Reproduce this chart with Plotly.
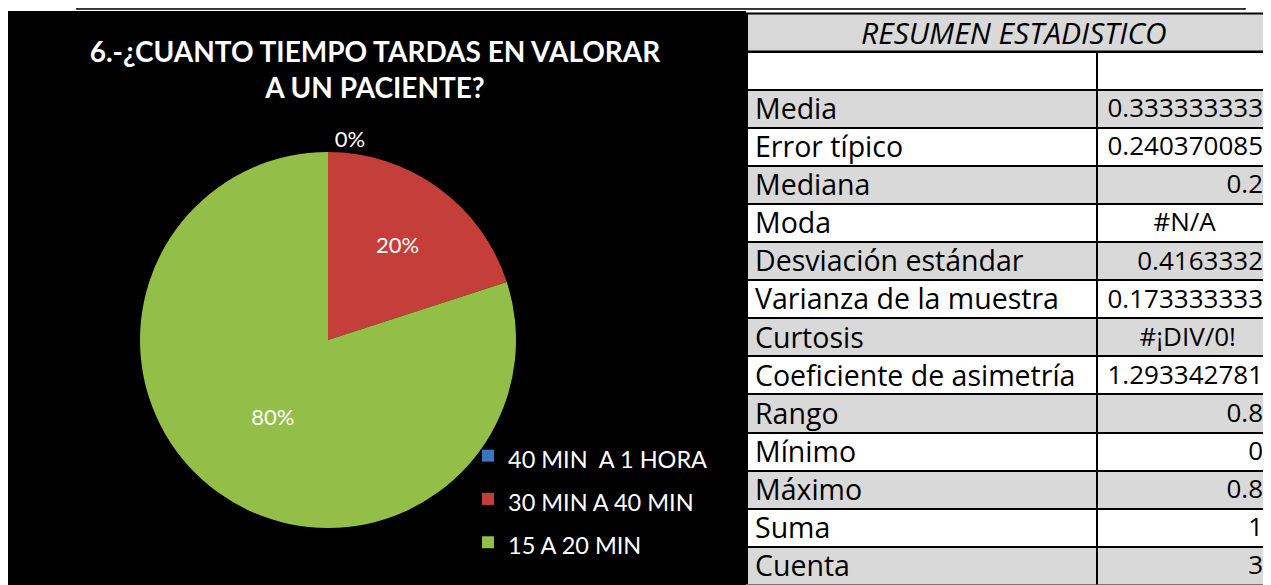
import plotly.graph_objects as go

# ---------------- data ----------------
categories = ["40 MIN\u00a0 A 1 HORA", "30 MIN A 40 MIN", "15 A 20 MIN"]
shares = [0.0, 0.2, 0.8]
slice_colors = ["#3B73C4", "#C43E3A", "#93BE47"]

stat_labels = ["Media", "Error típico", "Mediana", "Moda", "Desviación estándar",
               "Varianza de la muestra", "Curtosis", "Coeficiente de asimetría",
               "Rango", "Mínimo", "Máximo", "Suma", "Cuenta"]
stat_values = ["0.333333333", "0.240370085", "0.2", "#N/A", "0.4163332",
               "0.173333333", "#¡DIV/0!", "1.293342781", "0.8", "0", "0.8", "1", "3"]

chart_title = "6.-¿CUANTO TIEMPO TARDAS EN VALORAR<br>A UN PACIENTE?"
table_title = "RESUMEN ESTADISTICO"

# the page puts the figure 8px in from the top-left corner
OFF = 8
W, H = 1271 - OFF, 585 - OFF
def px(x):
    return (x - OFF) / W
def py(y):
    return 1 - (y - OFF) / H

GREY = "#D9D9D9"
FONT = "Lato"
TFONT = "Open Sans"

fig = go.Figure()

# pie
legend_labels = ['<span style="font-size:23.5px">' + c + '</span>' for c in categories]
fig.add_trace(go.Pie(
    labels=legend_labels,
    values=shares,
    sort=False,
    direction="clockwise",
    rotation=0,
    marker=dict(colors=slice_colors, line=dict(width=0)),
    texttemplate="%{percent:.0%}",
    textposition=["outside", "inside", "inside"],
    insidetextorientation="horizontal",
    textfont=dict(family=FONT, size=22, color="white"),
    outsidetextfont=dict(family=FONT, size=22, color="white"),
    insidetextfont=dict(family=FONT, size=22, color="white"),
    domain=dict(x=[px(140), px(516)], y=[py(528), py(152)]),
    showlegend=True,
    hoverinfo="percent",
))

# statistics table (Excel centres error values, so pad them away from the right edge)
row_fill = [GREY if i % 2 == 0 else "white" for i in range(len(stat_labels))]
err_pad = {"#N/A": 7, "#¡DIV/0!": 4}
shown_values = [v + "\u00a0" * err_pad.get(v, 0) for v in stat_values]
fig.add_trace(go.Table(
    domain=dict(x=[px(747), 1], y=[0, py(51.5)]),
    columnwidth=[350, 174],
    header=dict(values=["", ""], height=38.1,
                fill=dict(color="white"),
                line=dict(color="black", width=2),
                font=dict(family=TFONT, size=26, color="black")),
    cells=dict(values=[stat_labels, shown_values], height=38.1,
               align=["left", "right"],
               fill=dict(color=[row_fill, row_fill]),
               line=dict(color="black", width=2),
               font=dict(family=TFONT, size=[28.5, 26], color="black")),
))

shapes = [
    # top strip of spreadsheet cells
    dict(type="rect", xref="paper", yref="paper", x0=px(77), x1=px(1245), y0=py(9), y1=py(-3),
         fillcolor=GREY, line=dict(color="black", width=1.5), layer="below"),
    # black chart area
    dict(type="rect", xref="paper", yref="paper", x0=px(7), x1=px(746), y0=0, y1=py(11),
         fillcolor="black", line=dict(width=0), layer="below"),
    # table title row
    dict(type="rect", xref="paper", yref="paper", x0=px(747), x1=px(1280), y0=py(51.5), y1=py(13.5),
         fillcolor=GREY, line=dict(color="black", width=2), layer="below"),
]

annotations = [
    dict(text="<i>" + table_title + "</i>", xref="paper", yref="paper",
         x=px(1014), y=py(33), xanchor="center", yanchor="middle", showarrow=False,
         font=dict(family=TFONT, size=30, color="black")),
]

fig.update_layout(
    width=W, height=H,
    margin=dict(l=0, r=0, t=0, b=0),
    paper_bgcolor="white",
    plot_bgcolor="white",
    shapes=shapes,
    annotations=annotations,
    title=dict(text="<b>" + chart_title + "</b>", x=px(375), xanchor="center",
               y=py(62), yanchor="top", yref="container",
               font=dict(family=FONT, size=28, color="white")),
    legend=dict(x=px(468), y=py(429), xanchor="left", yanchor="top",
                bgcolor="rgba(0,0,0,0)", traceorder="normal",
                font=dict(family=FONT, size=31, color="white")),
)

fig.write_html("out.html")
